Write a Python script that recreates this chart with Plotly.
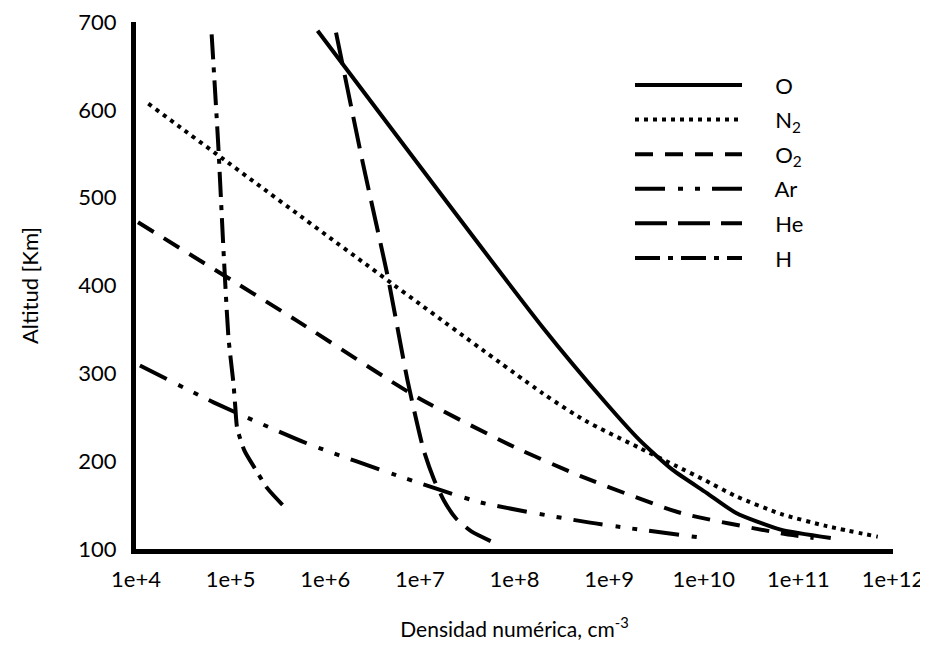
import plotly.graph_objects as go

# ---- data (number density in cm^-3, altitude in km) ----
O_x = [8.3e5, 2.0e8, 9.3e8, 2.1e9, 4.7e9, 1.07e10, 2.2e10, 6.5e10, 2.2e11]
O_y = [690, 352, 266, 224, 190, 164, 141, 122, 112.5]

N2_x = [1.35e4, 2.0e8, 5.6e8, 2.1e9, 5.0e9, 1.0e10, 2.2e10, 6.5e10, 2.0e11, 6.9e11]
N2_y = [607, 277, 246, 215, 195, 179, 160, 140, 126, 114]

O2_x = [1.05e4, 5.0e5, 9.3e6, 1.0e8, 5.0e8, 5.75e9, 6.5e10, 1.45e11]
O2_y = [472, 360, 273, 216, 183, 141, 118, 112.5]

Ar_x = [1.1e4, 6.6e4, 6.5e5, 6.8e6, 4.4e7, 6.3e8, 9.3e9]
Ar_y = [309, 267, 220, 181, 153, 130, 113]

He_x = [1.3e6, 2.5e6, 4.6e6, 7.4e6, 1.1e7, 1.4e7, 1.8e7, 2.4e7, 3.5e7, 5.6e7]
He_y = [688, 539, 409, 292, 212, 180, 155, 135, 120, 109]

H_x = [6.3e4, 7.4e4, 8.5e4, 9.5e4, 1.07e5, 1.12e5, 1.17e5, 1.4e5, 1.8e5, 2.45e5, 3.55e5]
H_y = [686, 560, 430, 340, 289, 262, 238, 212, 192, 169, 150]

x_tickvals = [1e4, 1e5, 1e6, 1e7, 1e8, 1e9, 1e10, 1e11, 1e12]
x_ticktext = ["1e+4", "1e+5", "1e+6", "1e+7", "1e+8", "1e+9", "1e+10", "1e+11", "1e+12"]
y_tickvals = [100, 200, 300, 400, 500, 600, 700]

PAD = "\u00a0" * 5
series = [
    ("O", O_x, O_y, "solid"),
    ("N<sub>2</sub>", N2_x, N2_y, "4px,5px"),
    ("O<sub>2</sub>", O2_x, O2_y, "18px,12px"),
    ("Ar", Ar_x, Ar_y, "30px,13px,5px,12px,5px,12px"),
    ("He", He_x, He_y, "32px,11px"),
    ("H", H_x, H_y, "25px,8px,5px,8px"),
]

FONT = "Lato, 'Open Sans', sans-serif"

fig = go.Figure()
for i, (name, xs, ys, dash) in enumerate(series):
    fig.add_trace(go.Scatter(
        x=xs, y=ys, name=PAD + name, mode="lines", legendgroup=f"g{i}",
        line=dict(color="black", width=4, dash=dash, shape="spline", smoothing=0.6),
    ))

# page body has an 8px margin, so the figure is 8px smaller than the window
fig.update_layout(
    width=920, height=643,
    margin=dict(l=128, r=35, t=14, b=102),
    paper_bgcolor="white", plot_bgcolor="white",
    font=dict(family=FONT, size=22, color="black"),
    showlegend=True,
    legend=dict(
        x=0.6526, y=0.92, xanchor="left", yanchor="top",
        bgcolor="rgba(0,0,0,0)", itemwidth=107,
        tracegroupgap=3, font=dict(size=22, family=FONT),
    ),
)
fig.update_xaxes(
    type="log", range=[4, 12], tickvals=x_tickvals, ticktext=x_ticktext,
    showgrid=False, zeroline=False, showline=True, linewidth=5, linecolor="black",
    ticks="", ticklabelstandoff=7, tickfont=dict(size=22), automargin=False,
    ticklabeloverflow="allow",
    title=dict(text="Densidad numérica, cm<sup>-3</sup>", font=dict(size=21), standoff=32),
)
fig.update_yaxes(
    range=[100, 700], tickvals=y_tickvals,
    showgrid=False, zeroline=False, showline=True, linewidth=5, linecolor="black",
    ticks="", ticklabelstandoff=10, tickfont=dict(size=22), automargin=False,
    ticklabeloverflow="allow",
    title=dict(text="Altitud [Km]", font=dict(size=22), standoff=35),
)

fig.write_html("out.html")
